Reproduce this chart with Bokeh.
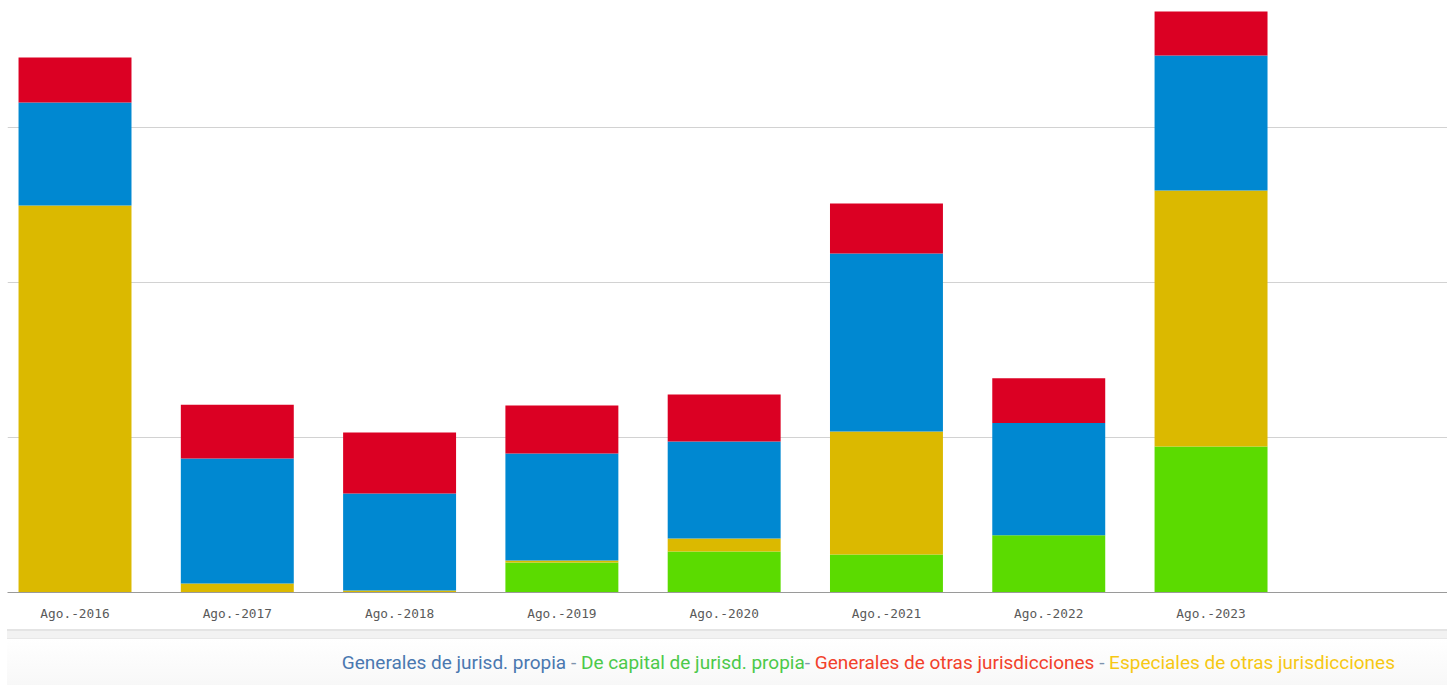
import numpy as np
from bokeh.plotting import figure
from bokeh.models import Div, FixedTicker, Range1d
from bokeh.layouts import column
from bokeh.embed import file_html
from bokeh.resources import INLINE

categories = ["Ago.-2016", "Ago.-2017", "Ago.-2018", "Ago.-2019",
              "Ago.-2020", "Ago.-2021", "Ago.-2022", "Ago.-2023"]
de_capital_propia = [0.0, 0.0, 0.0, 19.4, 26.5, 24.5, 37.0, 94.2]
especiales_otras = [249.7, 5.8, 1.3, 1.3, 8.4, 79.4, 0.0, 165.2]
generales_propia = [66.5, 80.6, 62.6, 69.0, 62.6, 114.8, 72.3, 87.1]
generales_otras = [29.0, 34.8, 39.4, 31.0, 30.3, 32.3, 29.0, 28.4]

series = ["de_capital_propia", "especiales_otras", "generales_propia", "generales_otras"]
colors = ["#5bdb00", "#dbb900", "#0088d1", "#db0023"]

x = np.arange(len(categories))
data = {"x": x, "de_capital_propia": de_capital_propia,
        "especiales_otras": especiales_otras,
        "generales_propia": generales_propia,
        "generales_otras": generales_otras}

p = figure(width=1447, height=628, output_backend="svg", toolbar_location=None,
           x_range=Range1d(-0.416, 8.457), y_range=Range1d(0, 376.8),
           min_border_left=7, min_border_right=0, min_border_top=8, min_border_bottom=36)
p.vbar_stack(series, x="x", width=0.696, color=colors, source=data, line_color=None)

p.yaxis.visible = False
p.xgrid.visible = False
p.ygrid.ticker = FixedTicker(ticks=[100, 200, 300])
p.ygrid.grid_line_color = "#d2d2d2"
p.ygrid.grid_line_width = 1
p.outline_line_color = None

p.xaxis.ticker = FixedTicker(ticks=list(x))
p.xaxis.major_label_overrides = {int(i): c for i, c in zip(x, categories)}
p.xaxis.major_tick_line_color = None
p.xaxis.minor_tick_line_color = None
p.xaxis.major_tick_out = 0
p.xaxis.major_label_standoff = 13
p.xaxis.axis_line_color = "#9a9a9a"
p.xaxis.axis_line_width = 1
p.xaxis.major_label_text_font = "DejaVu Sans Mono"
p.xaxis.major_label_text_font_size = "12.8px"
p.xaxis.major_label_text_color = "#5a5a5a"

sep = "#7d93ad"
legend_html = (
    '<div style="width:1440px;">'
    '<div style="height:10px;margin-top:1px;background:#f2f2f2;border-top:2px solid #e4e4e4;border-bottom:1px solid #e8e8e8;"></div>'
    '<div style="height:50px;line-height:48px;text-align:right;padding-right:52px;box-sizing:border-box;'
    'background:linear-gradient(#ffffff,#f7f7f7);font-family:Roboto,sans-serif;font-size:19px;white-space:nowrap;">'
    '<span style="color:#4a78b0;">Generales de jurisd. propia</span>'
    f'<span style="color:{sep};"> - </span>'
    '<span style="color:#4cc94a;">De capital de jurisd. propia</span>'
    f'<span style="color:{sep};">- </span>'
    '<span style="color:#f2412b;">Generales de otras jurisdicciones</span>'
    f'<span style="color:{sep};"> - </span>'
    '<span style="color:#f6c814;">Especiales de otras jurisdicciones</span>'
    '</div></div>'
)
div = Div(text=legend_html, width=1440, height=57, margin=(0, 0, 0, 7))

layout = column(p, div, spacing=0)
open("out.html", "w").write(file_html(layout, INLINE))
